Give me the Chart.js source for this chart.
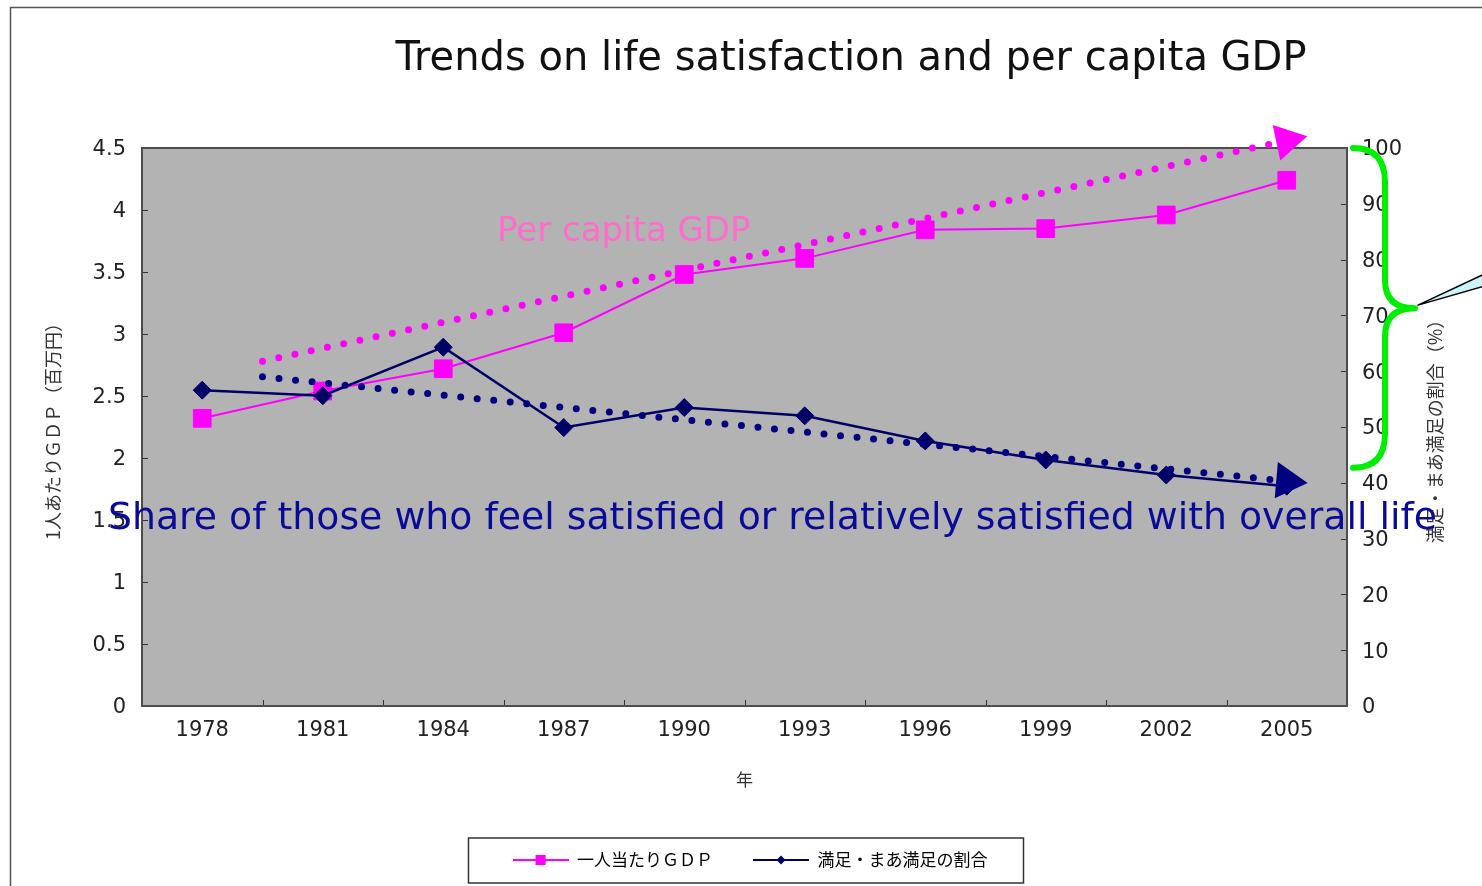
<!DOCTYPE html>
<html>
<head>
<meta charset="utf-8">
<script src="https://cdn.jsdelivr.net/npm/chart.js@4.4.1/dist/chart.umd.min.js"></script>
<style>
	html, body { margin: 0; padding: 0; background: #fff; }
	canvas { display: block; }
</style>
</head>
<body>
<canvas id="chart" width="1482" height="886"></canvas>
<script>
// data
const years = ['1978', '1981', '1984', '1987', '1990', '1993', '1996', '1999', '2002', '2005'];
const gdpValues = [2.32, 2.54, 2.72, 3.01, 3.48, 3.61, 3.84, 3.85, 3.96, 4.24];
const satisfiedValues = [56.6, 55.6, 64.3, 49.9, 53.5, 52.0, 47.5, 44.1, 41.4, 39.4];

// hand drawn trend arrows (x = category index)
const gdpTrend = [{ x: 0.5, y: 2.78 }, { x: 9.0, y: 4.56 }];
const satisfiedTrend = [{ x: 0.5, y: 59.0 }, { x: 9.0, y: 40.3 }];

const titleText = 'Trends on life satisfaction and per capita GDP';
const gdpLabel = '一人当たりＧＤＰ';
const satisfiedLabel = '満足・まあ満足の割合';
const gdpAxisTitle = '1人あたりＧＤＰ（百万円）';
const satisfiedAxisTitle = '満足・まあ満足の割合（%）';
const yearAxisTitle = '年';
const gdpNote = 'Per capita GDP';
const satisfiedNote = 'Share of those who feel satisfied or relatively satisfied with overall life';

const MAGENTA = '#ff00ff';
const NAVY = '#000066';
const JP = "'Noto Sans CJK JP', sans-serif";
const SANS = "'DejaVu Sans', sans-serif";

function legendSample(color, style) {
	const c = document.createElement('canvas');
	c.width = 56;
	c.height = 14;
	const g = c.getContext('2d');
	g.strokeStyle = color;
	g.lineWidth = 2;
	g.beginPath();
	g.moveTo(0, 7);
	g.lineTo(56, 7);
	g.stroke();
	g.fillStyle = color;
	if (style === 'rect') {
		g.fillRect(23, 2, 10, 10);
	} else {
		g.beginPath();
		g.moveTo(28, 2.5);
		g.lineTo(32.5, 7);
		g.lineTo(28, 11.5);
		g.lineTo(23.5, 7);
		g.closePath();
		g.fill();
	}
	return c;
}

const decor = {
	id: 'decor',
	beforeDatasetsDraw(chart) {
		const { ctx, chartArea: a, scales } = chart;
		ctx.save();
		ctx.fillStyle = '#b3b3b3';
		ctx.fillRect(a.left, a.top, a.width, a.height);

		// tick marks point inwards
		ctx.strokeStyle = '#333';
		ctx.lineWidth = 1;
		ctx.beginPath();
		scales.y.ticks.forEach((t) => {
			const y = Math.round(scales.y.getPixelForValue(t.value)) + 0.5;
			ctx.moveTo(a.left, y);
			ctx.lineTo(a.left + 6, y);
		});
		scales.y1.ticks.forEach((t) => {
			const y = Math.round(scales.y1.getPixelForValue(t.value)) + 0.5;
			ctx.moveTo(a.right - 6, y);
			ctx.lineTo(a.right, y);
		});
		for (let i = 1; i < years.length; i++) {
			const x = Math.round((scales.x.getPixelForValue(i - 1) + scales.x.getPixelForValue(i)) / 2) + 0.5;
			ctx.moveTo(x, a.bottom);
			ctx.lineTo(x, a.bottom - 6);
		}
		ctx.stroke();

		ctx.strokeStyle = '#4d4d4d';
		ctx.lineWidth = 2;
		ctx.strokeRect(a.left, a.top, a.width, a.height);
		ctx.restore();
	},
	afterDraw(chart) {
		const { ctx, chartArea: a, scales } = chart;
		ctx.save();

		// outer frame
		ctx.strokeStyle = '#555';
		ctx.lineWidth = 1.5;
		ctx.beginPath();
		ctx.moveTo(10.5, chart.height);
		ctx.lineTo(10.5, 7.5);
		ctx.lineTo(chart.width, 7.5);
		ctx.stroke();

		// legend frame
		const boxes = chart.legend.legendHitBoxes;
		if (boxes && boxes.length) {
			const first = boxes[0];
			const last = boxes[boxes.length - 1];
			const cy = first.top + first.height / 2;
			const left = first.left - 44;
			const right = last.left + last.width + 36;
			ctx.strokeStyle = '#333';
			ctx.lineWidth = 1.5;
			ctx.strokeRect(left, cy - 22, right - left, 45);
		}

		// title
		ctx.fillStyle = '#111';
		ctx.font = '40px ' + SANS;
		ctx.textAlign = 'center';
		ctx.textBaseline = 'alphabetic';
		ctx.fillText(titleText, 851, 70);

		// right axis title, reads bottom to top
		ctx.save();
		ctx.translate(1435, (a.top + a.bottom) / 2);
		ctx.rotate(-Math.PI / 2);
		ctx.fillStyle = '#333';
		ctx.font = '18px ' + JP;
		ctx.textBaseline = 'middle';
		ctx.fillText(satisfiedAxisTitle, 0, 0);
		ctx.restore();

		// green brace
		const y1 = scales.y1;
		const yTop = y1.getPixelForValue(100);
		const yMid = y1.getPixelForValue(71.3);
		const yBot = y1.getPixelForValue(42.7);
		const x0 = a.right + 6;
		const x1 = x0 + 32;
		const xTip = x0 + 62;
		ctx.strokeStyle = '#00ee00';
		ctx.lineWidth = 6;
		ctx.lineCap = 'round';
		ctx.lineJoin = 'round';
		ctx.beginPath();
		ctx.moveTo(x0, yTop);
		ctx.quadraticCurveTo(x1, yTop, x1, yTop + 34);
		ctx.lineTo(x1, yMid - 28);
		ctx.quadraticCurveTo(x1, yMid, xTip, yMid);
		ctx.quadraticCurveTo(x1, yMid, x1, yMid + 28);
		ctx.lineTo(x1, yBot - 34);
		ctx.quadraticCurveTo(x1, yBot, x0, yBot);
		ctx.stroke();

		// callout pointer
		ctx.fillStyle = '#ccf5fb';
		ctx.strokeStyle = '#000';
		ctx.lineWidth = 1.5;
		ctx.beginPath();
		ctx.moveTo(xTip + 3, yMid - 3);
		ctx.lineTo(chart.width + 2, yMid - 34);
		ctx.lineTo(chart.width + 2, yMid - 22);
		ctx.closePath();
		ctx.fill();
		ctx.stroke();

		// notes
		ctx.textAlign = 'left';
		ctx.textBaseline = 'alphabetic';
		ctx.fillStyle = '#ff6ccc';
		ctx.font = '34px ' + SANS;
		ctx.fillText(gdpNote, 497, 241);

		ctx.fillStyle = '#0a0a99';
		ctx.font = '37.8px ' + SANS;
		ctx.fillText(satisfiedNote, 108, 529);

		ctx.restore();
	},
};

const tickFont = { family: SANS, size: 21 };
const plainTick = (v) => String(v);

new Chart(document.getElementById('chart'), {
	type: 'line',
	data: {
		labels: years,
		datasets: [
			{
				label: 'gdpTrend',
				data: gdpTrend,
				xAxisID: 'xt',
				yAxisID: 'y',
				borderColor: MAGENTA,
				borderWidth: 7,
				borderDash: [0, 16.6],
				borderCapStyle: 'round',
				pointRadius: [0, 21],
				pointStyle: 'triangle',
				pointRotation: [0, 78],
				pointBackgroundColor: MAGENTA,
				pointBorderWidth: 0,
				clip: false,
				order: 0,
			},
			{
				label: 'satisfiedTrend',
				data: satisfiedTrend,
				xAxisID: 'xt',
				yAxisID: 'y1',
				borderColor: '#000080',
				borderWidth: 7,
				borderDash: [0, 16.6],
				borderCapStyle: 'round',
				pointRadius: [0, 21],
				pointStyle: 'triangle',
				pointRotation: [0, 95],
				pointBackgroundColor: '#000080',
				pointBorderWidth: 0,
				clip: false,
				order: 0,
			},
			{
				label: satisfiedLabel,
				data: satisfiedValues,
				yAxisID: 'y1',
				borderColor: NAVY,
				borderWidth: 2.5,
				pointStyle: 'rectRot',
				pointRadius: 9,
				pointBackgroundColor: NAVY,
				pointBorderColor: NAVY,
				pointBorderWidth: 1,
				tension: 0,
				order: 1,
			},
			{
				label: gdpLabel,
				data: gdpValues,
				yAxisID: 'y',
				borderColor: MAGENTA,
				borderWidth: 2,
				pointStyle: 'rect',
				pointRadius: 12.5,
				pointBackgroundColor: MAGENTA,
				pointBorderColor: MAGENTA,
				pointBorderWidth: 1,
				tension: 0,
				order: 2,
			},
		],
	},
	options: {
		responsive: false,
		animation: false,
		events: [],
		layout: {
			padding: { top: 148, left: 18, right: 0, bottom: 7.5 },
		},
		scales: {
			x: {
				type: 'category',
				offset: true,
				grid: { display: false },
				border: { display: false },
				ticks: { font: tickFont, color: '#222', padding: 4, maxRotation: 0 },
				title: {
					display: true,
					text: yearAxisTitle,
					font: { family: JP, size: 17 },
					color: '#333',
					padding: { top: 0, bottom: 21.3 },
				},
				afterFit: (scale) => {
					scale.height = 105.5;
				},
			},
			xt: {
				type: 'linear',
				position: 'bottom',
				display: false,
				min: -0.5,
				max: 9.5,
			},
			y: {
				position: 'left',
				min: 0,
				max: 4.5,
				grid: { display: false, drawTicks: false },
				border: { display: false },
				ticks: { stepSize: 0.5, font: tickFont, color: '#222', padding: 16, labelOffset: 2, callback: plainTick },
				title: {
					display: true,
					text: gdpAxisTitle,
					font: { family: JP, size: 18 },
					color: '#333',
					padding: { top: 24, bottom: 0 },
				},
				afterFit: (scale) => {
					scale.width = 124;
				},
			},
			y1: {
				position: 'right',
				min: 0,
				max: 100,
				grid: { display: false, drawTicks: false },
				border: { display: false },
				ticks: { stepSize: 10, font: tickFont, color: '#222', padding: 15, labelOffset: 2, callback: plainTick },
				afterFit: (scale) => {
					scale.width = 135;
				},
			},
		},
		plugins: {
			title: { display: false },
			tooltip: { enabled: false },
			legend: {
				display: true,
				position: 'bottom',
				labels: {
					usePointStyle: true,
					pointStyleWidth: 56,
					boxHeight: 14,
					padding: 40,
					color: '#222',
					font: { family: JP, size: 17 },
					generateLabels: () => [
						{ text: gdpLabel, pointStyle: legendSample(MAGENTA, 'rect'), lineWidth: 0, hidden: false, datasetIndex: 3 },
						{ text: satisfiedLabel, pointStyle: legendSample(NAVY, 'rectRot'), lineWidth: 0, hidden: false, datasetIndex: 2 },
					],
				},
			},
		},
	},
	plugins: [decor],
});
</script>
</body>
</html>
